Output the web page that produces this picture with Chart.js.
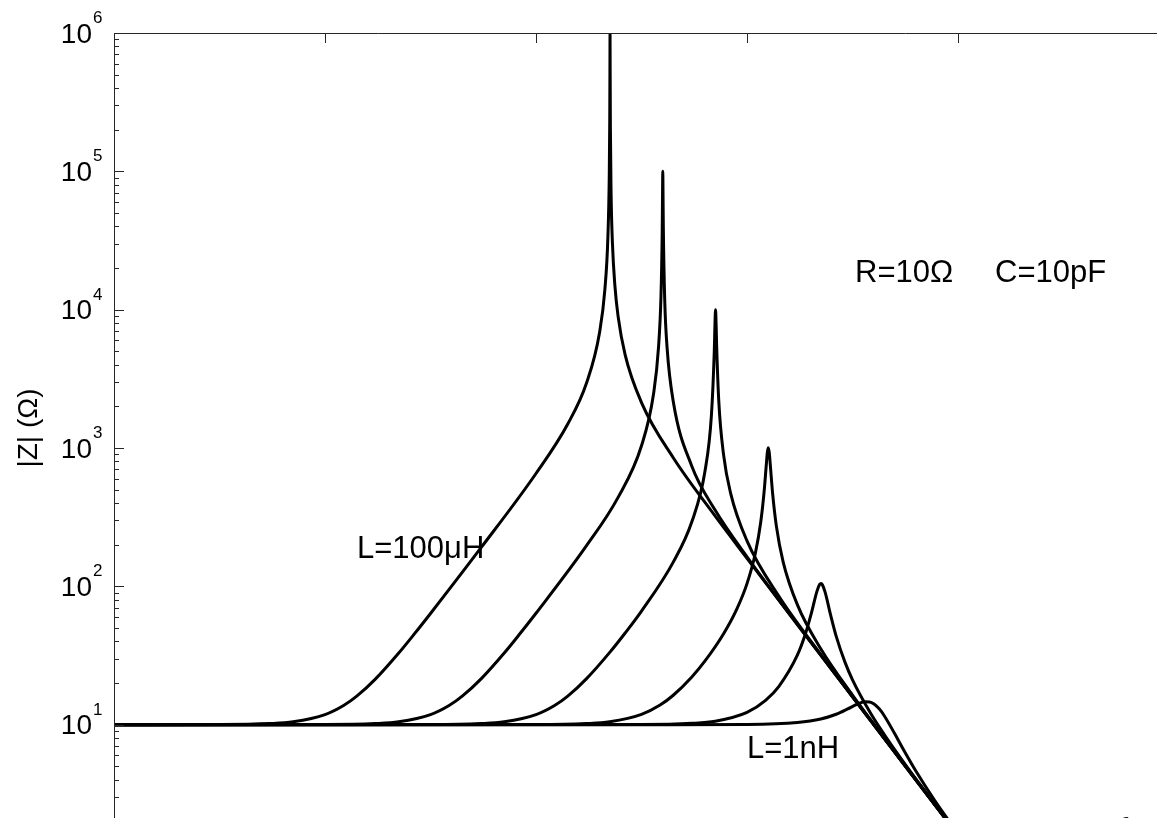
<!DOCTYPE html>
<html>
<head>
<meta charset="utf-8">
<script src="https://cdn.jsdelivr.net/npm/chart.js@4"></script>
<style>
  html, body { margin: 0; padding: 0; background: #fff; overflow: hidden; }
  canvas { display: block; }
</style>
</head>
<body>
<canvas id="zChart" width="1200" height="920"></canvas>
<script>
// |Z| (ohm) against frequency (Hz), one pair per inductor
const freq100uH = [1e2, 1e3, 3e3, 5e3, 1e4, 1.5e4, 2e4, 3e4, 5e4, 7e4, 1e5, 3e5, 1e6, 2e6, 3e6, 4e6, 4.5e6, 4.8e6, 4.95e6, 5.0e6, 5.02e6, 5.033e6, 5.045e6, 5.07e6, 5.15e6, 5.3e6, 5.6e6, 6e6, 7e6, 1e7, 2e7, 5e7, 1e8, 1e9, 1e10];
const z100uH = [10, 10.02, 10.18, 10.48, 11.81, 13.74, 16.06, 21.34, 32.97, 45.10, 63.65, 189.5, 654.2, 1492, 2924, 6822, 14094, 33330, 94670, 233550, 521500, 1000000, 553500, 210970, 68630, 30580, 14790, 8951, 4707, 2131, 849.6, 321.6, 159.6, 15.92, 1.592];

const freq10uH = [1e2, 1e4, 3e4, 5e4, 1e5, 1.5e5, 2e5, 3e5, 5e5, 7e5, 1e6, 3e6, 6e6, 1e7, 1.3e7, 1.45e7, 1.53e7, 1.57e7, 1.585e7, 1.5915e7, 1.6e7, 1.61e7, 1.66e7, 1.75e7, 2e7, 3e7, 5e7, 1e8, 1e9, 1e10];
const z10uH = [10, 10.02, 10.18, 10.48, 11.81, 13.74, 16.06, 21.34, 32.97, 45.19, 63.87, 195.8, 439.6, 1038, 2454, 5355, 12581, 34500, 77410, 100000, 68470, 39720, 11780, 5251, 2169, 738.3, 354.2, 163.3, 15.92, 1.592];

const freq1uH = [1e2, 1e5, 3e5, 5e5, 1e6, 1.5e6, 2e6, 3e6, 5e6, 7e6, 1e7, 2e7, 3e7, 4e7, 4.6e7, 4.9e7, 4.97e7, 5.033e7, 5.1e7, 5.15e7, 5.4e7, 6e7, 7e7, 1e8, 2e8, 5e8, 1e9, 3e9, 1e10];
const z1uH = [10, 10.02, 10.18, 10.48, 11.81, 13.74, 16.06, 21.42, 33.30, 45.99, 66.23, 149.7, 292.8, 681.2, 1730, 5088, 7825, 10005, 7675, 5671, 2191, 891.6, 470.2, 213.2, 84.96, 32.16, 15.96, 5.307, 1.592];

const freq100nH = [1e2, 1e6, 3e6, 5e6, 1e7, 1.5e7, 2e7, 3e7, 4e7, 6e7, 8e7, 1e8, 1.2e8, 1.35e8, 1.45e8, 1.52e8, 1.56e8, 1.5915e8, 1.625e8, 1.66e8, 1.75e8, 1.9e8, 2.2e8, 3e8, 5e8, 1e9, 3e9, 1e10];
const z100nH = [10, 10.02, 10.18, 10.48, 11.86, 13.86, 16.32, 22.12, 28.87, 45.42, 68.42, 104.6, 173.6, 291.5, 475.3, 739.9, 933.4, 1005, 927.5, 768.1, 467.4, 271.2, 150.4, 73.73, 35.41, 16.35, 5.321, 1.592];

const freq10nH = [1e2, 1e7, 3e7, 5e7, 1e8, 1.5e8, 2e8, 3e8, 3.6e8, 4.1e8, 4.6e8, 4.882e8, 5.033e8, 5.184e8, 5.5e8, 6.2e8, 7e8, 8.5e8, 1e9, 1.5e9, 2e9, 3e9, 5e9, 1e10];
const z10nH = [10, 10.02, 10.22, 10.59, 12.27, 15.0, 18.86, 31.77, 45.95, 65.21, 91.95, 103.3, 104.9, 102.8, 90.75, 62.09, 43.67, 28.19, 21.11, 11.94, 8.492, 5.459, 3.216, 1.596];

const freq1nH = [1e2, 1e7, 1e8, 3e8, 5e8, 7e8, 9e8, 1.1e9, 1.3e9, 1.45e9, 1.6e9, 1.8e9, 2e9, 2.5e9, 3e9, 4e9, 6e9, 1e10];
const z1nH = [10, 10.0, 10.04, 10.36, 10.98, 11.89, 12.99, 14.03, 14.64, 14.60, 14.10, 12.96, 11.61, 8.662, 6.724, 4.600, 2.839, 1.632];

const seriesFreq = [freq100uH, freq10uH, freq1uH, freq100nH, freq10nH, freq1nH];
const seriesZ = [z100uH, z10uH, z1uH, z100nH, z10nH, z1nH];
const seriesNames = ["L=100μH", "L=10μH", "L=1μH", "L=100nH", "L=10nH", "L=1nH"];

const xTickExp = [2, 4, 6, 8, 10, 12];
const yTickExp = [0, 1, 2, 3, 4, 5, 6];

const FONT = '"Liberation Sans", Arial, Helvetica, sans-serif';

const datasets = seriesNames.map((name, i) => ({
  label: name,
  data: seriesFreq[i].map((f, j) => ({ x: f, y: seriesZ[i][j] })),
  borderColor: "#000",
  borderWidth: 3,
  pointRadius: 0,
  cubicInterpolationMode: "monotone",
  fill: false,
}));

const matlabAxes = {
  id: "matlabAxes",
  afterDatasetsDraw(chart) {
    const { ctx, chartArea: a, scales } = chart;
    const x = scales.x, y = scales.y;
    ctx.save();
    ctx.strokeStyle = "#262626";
    ctx.lineWidth = 1;
    ctx.beginPath();
    ctx.rect(a.left + 0.5, a.top + 0.5, a.right - a.left, a.bottom - a.top);
    ctx.stroke();

    // y ticks, inward, with minor ticks
    ctx.beginPath();
    for (let e = 0; e <= 6; e++) {
      for (let m = 1; m <= 9; m++) {
        if (e === 6 && m > 1) break;
        const py = Math.round(y.getPixelForValue(m * Math.pow(10, e))) + 0.5;
        const len = m === 1 ? 10 : 5;
        ctx.moveTo(a.left, py); ctx.lineTo(a.left + len, py);
        ctx.moveTo(a.right, py); ctx.lineTo(a.right - len, py);
      }
    }
    // x ticks every two decades
    xTickExp.forEach((e) => {
      const px = Math.round(x.getPixelForValue(Math.pow(10, e))) + 0.5;
      ctx.moveTo(px, a.top); ctx.lineTo(px, a.top + 10);
      ctx.moveTo(px, a.bottom); ctx.lineTo(px, a.bottom - 10);
    });
    ctx.stroke();

    ctx.fillStyle = "#000";
    // y tick labels 10^n
    yTickExp.forEach((e) => {
      const py = y.getPixelForValue(Math.pow(10, e));
      ctx.font = "28px " + FONT;
      ctx.textAlign = "right";
      ctx.textBaseline = "middle";
      ctx.fillText("10", a.left - 22, py + 2);
      ctx.font = "17px " + FONT;
      ctx.textAlign = "left";
      ctx.textBaseline = "alphabetic";
      ctx.fillText(String(e), a.left - 21, py - 10);
    });
    // x tick labels (below the visible part)
    xTickExp.forEach((e) => {
      const px = x.getPixelForValue(Math.pow(10, e));
      ctx.font = "28px " + FONT;
      ctx.textAlign = "right";
      ctx.textBaseline = "top";
      ctx.fillText("10", px + 4, a.bottom + 14);
      ctx.font = "17px " + FONT;
      ctx.textAlign = "left";
      ctx.fillText(String(e), px + 5, a.bottom + 6);
    });

    // y axis title
    ctx.save();
    ctx.translate(37, 428);
    ctx.rotate(-Math.PI / 2);
    ctx.font = "28px " + FONT;
    ctx.textAlign = "center";
    ctx.textBaseline = "alphabetic";
    ctx.fillText("|Z| (Ω)", 0, 0);
    ctx.restore();

    // annotations
    ctx.font = "31px " + FONT;
    ctx.textAlign = "left";
    ctx.textBaseline = "alphabetic";
    ctx.fillText("R=10Ω", 855, 282);
    ctx.fillText("C=10pF", 995, 282);
    ctx.fillText(seriesNames[0], 357, 558);
    ctx.fillText(seriesNames[5], 747, 758);
    ctx.font = "italic 31px " + FONT;
    ctx.fillText("f", 1117, 840);
    ctx.restore();
  },
};

new Chart(document.getElementById("zChart"), {
  type: "line",
  data: { datasets },
  options: {
    responsive: false,
    animation: false,
    devicePixelRatio: 1,
    layout: { padding: { left: 114, top: 33, right: 31, bottom: 57 } },
    plugins: { legend: { display: false }, tooltip: { enabled: false } },
    scales: {
      x: { type: "logarithmic", min: 1e2, max: 1e12, display: false },
      y: { type: "logarithmic", min: 1, max: 1e6, display: false },
    },
  },
  plugins: [matlabAxes],
});
</script>
</body>
</html>
